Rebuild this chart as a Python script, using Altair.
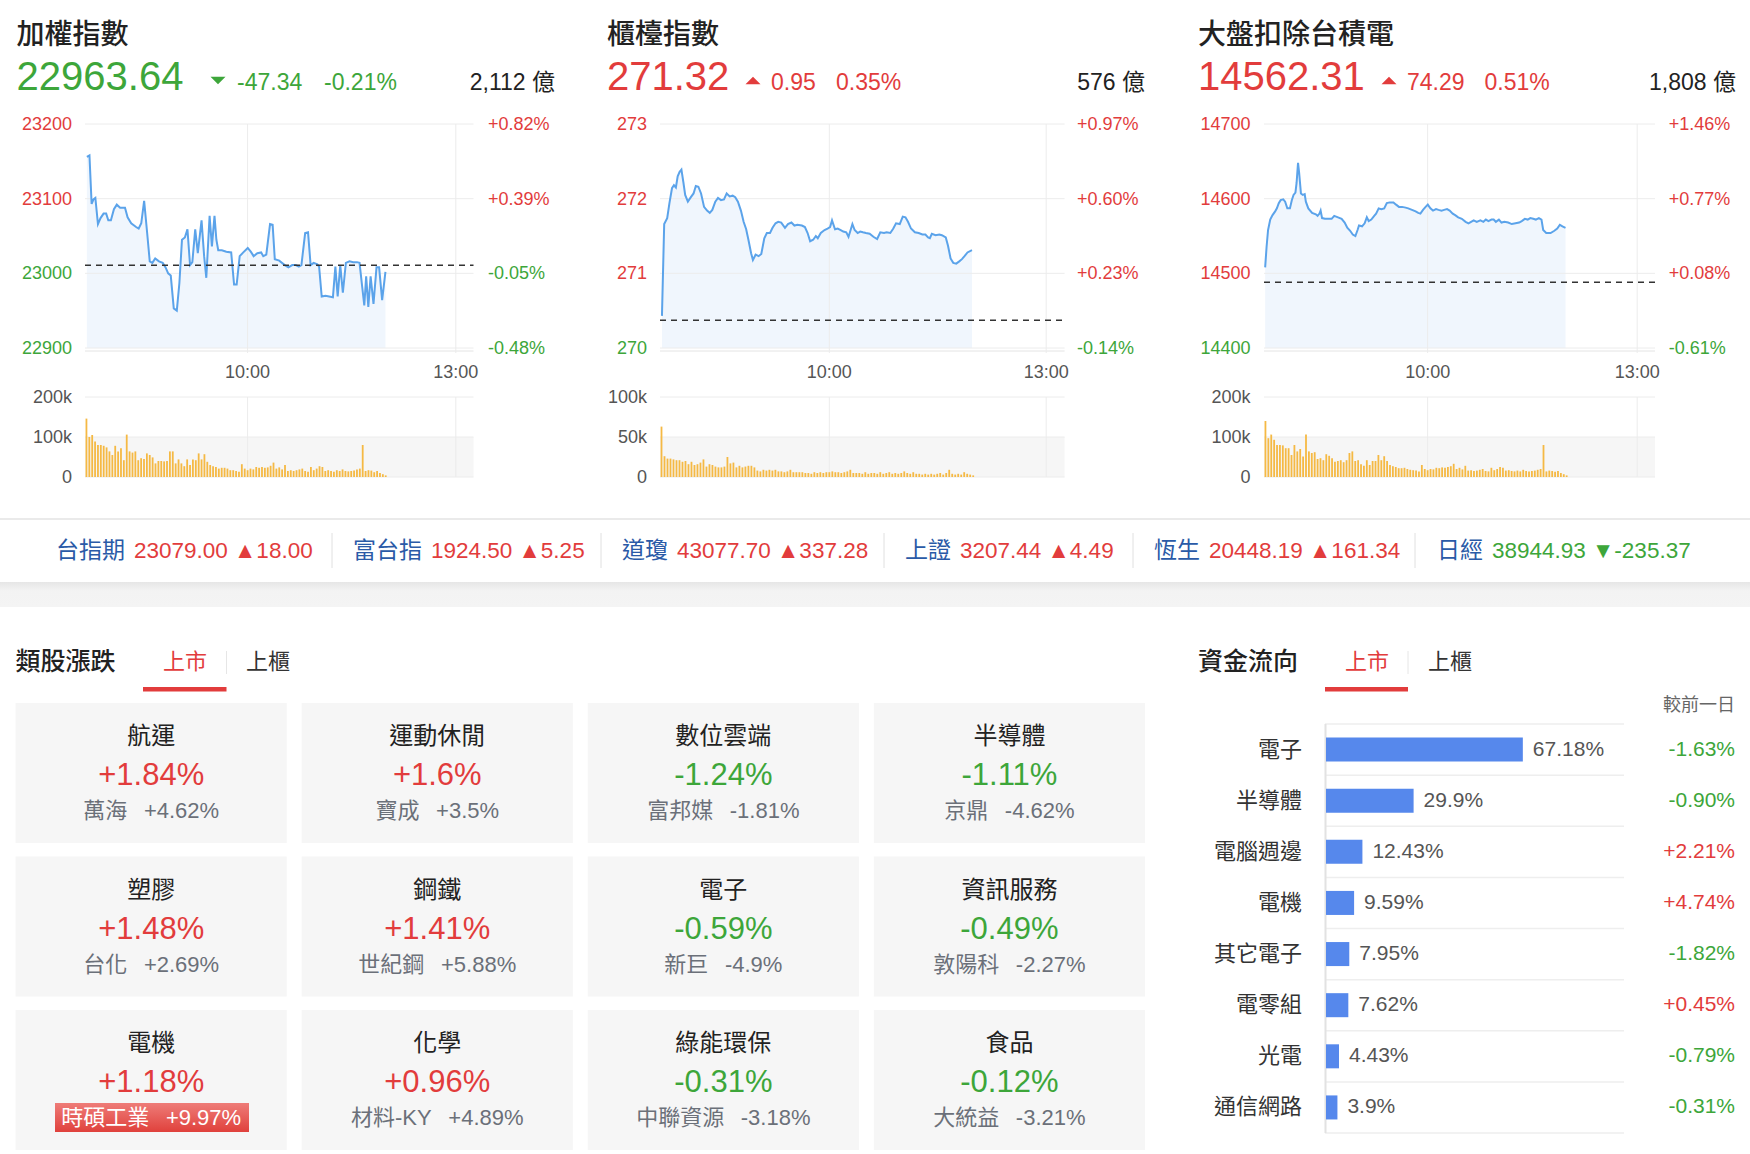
import altair as alt
import pandas as pd

FONT = "Liberation Sans, Noto Sans CJK TC, sans-serif"
RED = "#e23c3c"
GREEN = "#3da63a"
DARK = "#222222"
MID = "#555555"
SOFT = "#666666"
SUB_C = "#6b7079"
TICK_BLUE = "#2a5aa7"
LINE_C = "#5ba3ea"
AREA_C = "#f0f6fd"
VOL_C = "#f5b944"
GRID_C = "#ececec"
CARD_C = "#f6f6f6"
BAR_C = "#5688ec"

# ---------------- data ----------------
INDEX_NAMES = ["加權指數", "櫃檯指數", "大盤扣除台積電"]
INDEX_LAST = [22963.64, 271.32, 14562.31]
INDEX_CHG = [-47.34, 0.95, 74.29]
INDEX_PCT = [-0.21, 0.35, 0.51]
INDEX_AMT = ["2,112 億", "576 億", "1,808 億"]

PRICE_TICKS = [[22900, 23000, 23100, 23200], [270, 271, 272, 273], [14400, 14500, 14600, 14700]]
VOL_TICKS = [[0, 100, 200], [0, 50, 100], [0, 100, 200]]
VOL_TICK_LABELS = [["0", "100k", "200k"], ["0", "50k", "100k"], ["0", "100k", "200k"]]
TIME_TICKS = [113, 257.7]
TIME_LABELS = ["10:00", "13:00"]

P1_T = [1.3, 3.1, 4.6, 5.9, 7.2, 9.0, 10.8, 12.9, 14.7, 16.2, 18.0, 20.1, 22.1, 24.4, 27.8, 29.6, 32.1, 35.5, 37.3, 39.1,
        41.1, 43.2, 45.0, 46.8, 48.8, 51.4, 54.0, 56.0, 57.8, 59.6, 61.7, 63.8, 65.6, 67.4, 69.4, 71.2, 73.0, 74.6, 76.6, 78.4,
        81.0, 82.8, 84.3, 86.6, 88.2, 90.0, 91.3, 92.6, 95.1, 98.2, 101.6, 103.6, 105.4, 107.5, 110.0, 113.1, 115.2, 117.2, 119.8, 122.4,
        123.9, 126.0, 128.6, 130.4, 131.9, 135.0, 138.8, 141.4, 144.0, 146.5, 148.6, 150.4, 153.0, 155.0, 156.8, 158.9, 161.5, 162.7, 164.5, 167.1,
        169.7, 172.3, 174.0, 175.6, 177.4, 179.2, 181.3, 183.8, 186.4, 189.0, 190.8, 192.3, 194.1, 195.4, 196.9, 198.5, 200.5, 202.6, 204.4, 206.5,
        208.8]
P1_V = [23156, 23158, 23093, 23099, 23101, 23066, 23074, 23080, 23080, 23071,
        23071, 23086, 23092, 23088, 23088, 23075, 23067, 23062, 23060, 23067,
        23097, 23054, 23016, 23014, 23020, 23016, 23014, 23008, 23000, 22997,
        22953, 22950, 22987, 23045, 23048, 23059, 23011, 23015, 23059, 23027,
        23071, 23023, 22994, 23077, 23036, 23077, 23045, 23031, 23031, 23029,
        23028, 22985, 22985, 23023, 23028, 23034, 23029, 23023, 23027, 23028,
        23023, 23025, 23066, 23065, 23019, 23017, 23011, 23008, 23011, 23011,
        23009, 23011, 23054, 23055, 23011, 23014, 23012, 23009, 22969, 22970,
        22969, 22968, 23009, 22969, 23011, 22974, 23014, 23016, 23015, 23015,
        23014, 22988, 22957, 22996, 22955, 22996, 22959, 23008, 23008, 22964,
        23002]

P2_T = [1.3, 2.8, 4.8, 6.3, 8.0, 9.3, 10.6, 11.8, 13.1, 14.3,
        15.6, 16.8, 18.6, 20.6, 22.4, 23.9, 25.6, 27.4, 29.4, 31.4,
        33.2, 34.9, 36.9, 38.7, 40.7, 42.7, 44.5, 46.5, 48.5, 50.2,
        52.0, 54.0, 55.8, 57.5, 59.0, 60.8, 62.0, 63.8, 65.8, 67.6,
        69.6, 71.3, 73.4, 75.1, 77.1, 78.9, 80.9, 83.4, 85.4, 87.7,
        89.7, 91.7, 94.7, 96.7, 98.5, 100.2, 102.2, 104.0, 105.3, 107.3,
        109.8, 111.8, 113.5, 114.8, 116.8, 118.6, 120.6, 122.3, 124.3, 125.8,
        126.9, 128.4, 129.9, 131.9, 133.6, 135.4, 137.4, 139.9, 142.4, 144.9,
        147.0, 149.5, 151.2, 153.7, 155.7, 157.5, 160.0, 162.0, 163.8, 165.5,
        167.5, 170.1, 172.6, 175.1, 177.1, 178.9, 180.1, 181.4, 183.9, 186.4,
        188.1, 190.7, 192.2, 193.9, 195.7, 197.7, 199.7, 201.5, 203.2, 205.2, 208.2]
P2_V = [270.43, 271.66, 271.74, 271.94, 272.14, 272.18, 272.15, 272.30, 272.36, 272.39,
        272.22, 272.05, 271.96, 272.02, 272.07, 272.17, 272.16, 272.07, 271.89, 271.84,
        271.81, 271.85, 271.96, 272.01, 271.98, 271.99, 272.07, 272.03, 272.04, 272.02,
        271.96, 271.84, 271.69, 271.59, 271.45, 271.27, 271.18, 271.25, 271.23, 271.26,
        271.47, 271.54, 271.54, 271.61, 271.67, 271.69, 271.68, 271.61, 271.66, 271.68,
        271.64, 271.65, 271.64, 271.62, 271.54, 271.43, 271.45, 271.50, 271.47, 271.54,
        271.58, 271.60, 271.62, 271.71, 271.59, 271.60, 271.58, 271.56, 271.55, 271.49,
        271.56, 271.66, 271.58, 271.54, 271.56, 271.55, 271.54, 271.53, 271.49, 271.46,
        271.55, 271.54, 271.55, 271.54, 271.60, 271.67, 271.66, 271.76, 271.75, 271.69,
        271.60, 271.55, 271.54, 271.52, 271.52, 271.48, 271.47, 271.53, 271.51, 271.52,
        271.51, 271.48, 271.37, 271.20, 271.14, 271.13, 271.16, 271.19, 271.23, 271.28, 271.31]

P3_T = [0.8, 1.8, 2.8, 4.3, 5.9, 7.7, 8.9, 10.2, 11.5, 13.3,
        14.6, 16.1, 17.9, 19.2, 20.4, 21.7, 22.5, 23.5, 24.3, 25.5,
        26.8, 28.1, 28.9, 30.6, 33.2, 35.8, 37.0, 38.3, 39.1, 40.1,
        42.1, 44.7, 46.7, 48.5, 51.1, 53.6, 55.7, 57.5, 59.5, 61.3,
        63.1, 64.6, 65.6, 67.7, 69.5, 71.0, 72.3, 74.1, 76.1, 77.4,
        79.2, 81.0, 83.0, 84.8, 86.8, 89.4, 91.2, 93.2, 95.3, 97.8,
        99.6, 102.2, 104.7, 106.5, 108.0, 109.8, 111.6, 113.1, 114.9, 116.7,
        118.8, 120.5, 122.6, 124.4, 126.4, 128.2, 130.3, 132.0, 134.1, 136.6,
        139.2, 141.2, 143.0, 144.8, 146.9, 149.4, 151.5, 153.2, 155.0, 157.1,
        158.6, 160.1, 162.2, 164.0, 166.0, 168.6, 171.1, 173.7, 176.2, 178.0,
        180.1, 182.1, 183.9, 185.9, 187.7, 189.8, 191.6, 192.8, 194.9, 197.9,
        200.5, 202.5, 204.3, 206.1, 208.2]
P3_V = [14508, 14536, 14558, 14572, 14578, 14583, 14587, 14594, 14598, 14599,
        14596, 14587, 14587, 14598, 14605, 14608, 14621, 14648, 14634, 14607,
        14605, 14606, 14596, 14587, 14581, 14579, 14577, 14580, 14584, 14574,
        14573, 14573, 14573, 14577, 14575, 14573, 14568, 14561, 14557, 14552,
        14550, 14558, 14564, 14563, 14567, 14575, 14570, 14572, 14577, 14580,
        14587, 14586, 14587, 14594, 14595, 14595, 14592, 14589, 14589, 14588,
        14587, 14585, 14583, 14581, 14580, 14585, 14589, 14592, 14587, 14584,
        14586, 14585, 14584, 14585, 14586, 14584, 14580, 14578, 14575, 14573,
        14569, 14567, 14569, 14571, 14569, 14571, 14569, 14572, 14570, 14572,
        14572, 14569, 14572, 14568, 14569, 14568, 14566, 14567, 14568, 14570,
        14573, 14572, 14574, 14573, 14572, 14574, 14572, 14558, 14554, 14554,
        14557, 14560, 14565, 14563, 14561]

VOL_T = list(range(1, 210, 2))
P1_VOL = [146, 100, 105, 89, 80, 80, 78, 74, 64, 55, 78, 64, 72, 42, 106, 64, 61, 64, 42, 47,
          45, 59, 55, 49, 34, 40, 40, 39, 40, 64, 64, 34, 44, 34, 27, 44, 30, 44, 42, 59,
          44, 57, 38, 30, 27, 25, 21, 23, 23, 21, 17, 17, 15, 13, 32, 21, 17, 21, 19, 25,
          23, 25, 23, 24, 28, 36, 21, 24, 19, 30, 15, 17, 15, 17, 19, 21, 15, 13, 25, 17,
          21, 27, 25, 15, 17, 15, 13, 17, 15, 19, 15, 14, 15, 16, 19, 21, 80, 15, 17, 16,
          12, 15, 10, 7, 4]
P2_VOL = [63, 26, 23, 23, 22, 21, 21, 19, 20, 16, 19, 15, 16, 18, 22, 13, 16, 15, 13, 12,
          12, 13, 25, 17, 18, 12, 14, 12, 13, 14, 14, 12, 8, 7, 9, 8, 9, 8, 9, 7,
          7, 6, 7, 9, 6, 6, 6, 6, 5, 5, 4, 6, 5, 6, 5, 6, 6, 7, 6, 6,
          5, 6, 7, 9, 5, 5, 5, 4, 6, 4, 5, 5, 4, 6, 4, 5, 6, 4, 5, 4,
          5, 7, 5, 4, 6, 4, 4, 3, 4, 3, 4, 3, 4, 5, 3, 5, 9, 4, 3, 4,
          3, 6, 4, 3, 2]
P3_VOL = [140, 97, 106, 93, 80, 80, 79, 72, 72, 55, 80, 64, 70, 51, 106, 64, 60, 62, 45, 47,
          42, 57, 53, 47, 38, 40, 42, 37, 42, 60, 64, 40, 42, 32, 28, 42, 30, 40, 40, 55,
          42, 52, 40, 30, 27, 25, 22, 22, 23, 20, 18, 17, 16, 14, 30, 20, 17, 20, 19, 23,
          22, 24, 23, 25, 27, 33, 20, 23, 19, 28, 16, 17, 15, 16, 18, 20, 15, 14, 23, 17,
          20, 25, 23, 16, 17, 15, 14, 16, 14, 18, 15, 14, 15, 16, 18, 20, 80, 14, 16, 15,
          13, 15, 10, 7, 4]

TICKER_NAMES = ["台指期", "富台指", "道瓊", "上證", "恆生", "日經"]
TICKER_VALS = ["23079.00", "1924.50", "43077.70", "3207.44", "20448.19", "38944.93"]
TICKER_CHGS = [18.00, 5.25, 337.28, 4.49, 161.34, -235.37]

SECTOR_NAMES = ["航運", "運動休閒", "數位雲端", "半導體", "塑膠", "鋼鐵", "電子", "資訊服務",
                "電機", "化學", "綠能環保", "食品"]
SECTOR_PCT = [1.84, 1.6, -1.24, -1.11, 1.48, 1.41, -0.59, -0.49, 1.18, 0.96, -0.31, -0.12]
SECTOR_LEAD = ["萬海", "寶成", "富邦媒", "京鼎", "台化", "世紀鋼", "新巨", "敦陽科",
               "時碩工業", "材料-KY", "中聯資源", "大統益"]
SECTOR_LEAD_PCT = [4.62, 3.5, -1.81, -4.62, 2.69, 5.88, -4.9, -2.27, 9.97, 4.89, -3.18, -3.21]

FLOW_CATS = ["電子", "半導體", "電腦週邊", "電機", "其它電子", "電零組", "光電", "通信網路"]
FLOW_SHARE = [67.18, 29.9, 12.43, 9.59, 7.95, 7.62, 4.43, 3.9]
FLOW_CHG = [-1.63, -0.90, 2.21, 4.74, -1.82, 0.45, -0.79, -0.31]

# ---------------- layout ----------------
W, H = 1750, 1154
PY_TOP, PY_BOT = 124, 348
VY_TOP, VY_BOT = 397, 477
PANEL_PX = [(85, 473.5), (660, 1064.6), (1264, 1655)]
LEFT_LAB_X = [72, 647, 1250.6]
RIGHT_LAB_X = [488, 1077, 1668.7]
HEAD = [dict(title_x=16.6, tri_x=218, chg_x=237, pct_x=324, amt_x=555),
        dict(title_x=607, tri_x=753, chg_x=771, pct_x=836, amt_x=1145),
        dict(title_x=1198, tri_x=1389, chg_x=1407, pct_x=1484.5, amt_x=1736)]
TICKER_X = [56, 353, 622, 905, 1154, 1437]
TICKER_SEP_X = [332, 601, 884, 1133, 1415]
GAP = "\u00a0\u00a0\u2009"   # visible double space in SVG text

layers = []


def one():
    return pd.DataFrame({"k": [0]})


def rect(x1, x2, y1, y2, color):
    return alt.Chart(one()).mark_rect(color=color).encode(
        x=alt.value(x1), x2=alt.value(x2), y=alt.value(y1), y2=alt.value(y2))


def hline(x1, x2, y, color, width=1):
    return alt.Chart(one()).mark_rule(color=color, strokeWidth=width).encode(
        x=alt.value(x1), x2=alt.value(x2), y=alt.value(y))


def vline(x, y1, y2, color, width=1):
    return alt.Chart(one()).mark_rule(color=color, strokeWidth=width).encode(
        x=alt.value(x), y=alt.value(y1), y2=alt.value(y2))


def label(text, x, y, size, color, align="left", weight="normal"):
    return alt.Chart(pd.DataFrame({"s": [text]})).mark_text(
        align=align, baseline="middle", fontSize=size, color=color, font=FONT, fontWeight=weight
    ).encode(x=alt.value(x), y=alt.value(y), text="s:N")


LINES = [(P1_T, P1_V), (P2_T, P2_V), (P3_T, P3_V)]
VOLS = [P1_VOL, P2_VOL, P3_VOL]

for i in range(3):
    px0, px1 = PANEL_PX[i]
    prev = round(INDEX_LAST[i] - INDEX_CHG[i], 2)
    ticks = PRICE_TICKS[i]
    xs = alt.Scale(domain=[0, 270], range=[px0, px1], nice=False, zero=False)
    ys = alt.Scale(domain=[ticks[0], ticks[-1]], range=[PY_BOT, PY_TOP], nice=False, zero=False)
    vs = alt.Scale(domain=[0, VOL_TICKS[i][-1]], range=[VY_BOT, VY_TOP], nice=False, zero=False)
    up_c = RED if INDEX_CHG[i] > 0 else GREEN

    # header
    h = HEAD[i]
    layers.append(label(INDEX_NAMES[i], h["title_x"], 36, 28, DARK, weight=500))
    layers.append(label(f"{INDEX_LAST[i]:.2f}", h["title_x"], 78, 40, up_c))
    tri = "M-1,0.5L1,0.5L0,-0.5Z" if INDEX_CHG[i] > 0 else "M-1,-0.5L1,-0.5L0,0.5Z"
    layers.append(alt.Chart(one()).mark_point(shape=tri, filled=True, size=225, color=up_c, opacity=1,
                                              strokeWidth=0).encode(x=alt.value(h["tri_x"]), y=alt.value(80.5)))
    layers.append(label(f"{INDEX_CHG[i]:.2f}", h["chg_x"], 82.5, 23, up_c))
    layers.append(label(f"{INDEX_PCT[i]:.2f}%", h["pct_x"], 82.5, 23, up_c))
    layers.append(label(INDEX_AMT[i], h["amt_x"], 82.5, 23, DARK, align="right"))

    tdf = pd.DataFrame({
        "v": ticks,
        "lab": [str(t) for t in ticks],
        "pct": [f"{(t - prev) / prev * 100:+.2f}%" for t in ticks],
        "c": [RED if t > prev else GREEN for t in ticks],
    })
    ldf = pd.DataFrame({"t": LINES[i][0], "v": LINES[i][1]})
    ttdf = pd.DataFrame({"t": TIME_TICKS, "lab": TIME_LABELS})
    # area under the line (to the bottom of the price scale)
    layers.append(alt.Chart(ldf).mark_area(color=AREA_C, opacity=1).encode(
        x=alt.X("t:Q", scale=xs, axis=None), y=alt.Y("v:Q", scale=ys, axis=None),
        y2=alt.Y2(datum=ticks[0])))
    # horizontal grid
    layers.append(alt.Chart(tdf).mark_rule(color=GRID_C, strokeWidth=1).encode(
        y=alt.Y("v:Q", scale=ys, axis=None), x=alt.value(px0), x2=alt.value(px1)))
    layers.append(hline(px0, px1, PY_BOT + 3, "#e4e4e4", 1))
    # vertical grid
    layers.append(alt.Chart(ttdf).mark_rule(color=GRID_C, strokeWidth=1).encode(
        x=alt.X("t:Q", scale=xs, axis=None), y=alt.value(PY_TOP), y2=alt.value(PY_BOT + 5)))
    layers.append(alt.Chart(ttdf).mark_text(fontSize=18, color=MID, font=FONT, baseline="middle").encode(
        x=alt.X("t:Q", scale=xs, axis=None), y=alt.value(373), text="lab:N"))
    # line
    layers.append(alt.Chart(ldf).mark_line(color=LINE_C, strokeWidth=2).encode(
        x=alt.X("t:Q", scale=xs, axis=None), y=alt.Y("v:Q", scale=ys, axis=None)))
    # previous close
    layers.append(alt.Chart(pd.DataFrame({"v": [prev]})).mark_rule(
        color="#333333", strokeWidth=1.5, strokeDash=[6, 5]).encode(
        y=alt.Y("v:Q", scale=ys, axis=None), x=alt.value(px0), x2=alt.value(px1)))
    # axis labels
    layers.append(alt.Chart(tdf).mark_text(fontSize=18, font=FONT, align="right", baseline="middle", dy=1).encode(
        x=alt.value(LEFT_LAB_X[i]), y=alt.Y("v:Q", scale=ys, axis=None), text="lab:N",
        color=alt.Color("c:N", scale=None)))
    layers.append(alt.Chart(tdf).mark_text(fontSize=18, font=FONT, align="left", baseline="middle", dy=1).encode(
        x=alt.value(RIGHT_LAB_X[i]), y=alt.Y("v:Q", scale=ys, axis=None), text="pct:N",
        color=alt.Color("c:N", scale=None)))

    # volume
    vt = VOL_TICKS[i]
    vdf_t = pd.DataFrame({"v": vt, "lab": VOL_TICK_LABELS[i]})
    layers.append(alt.Chart(pd.DataFrame({"a": [vt[0]], "b": [vt[1]]})).mark_rect(color="#f6f6f6").encode(
        y=alt.Y("a:Q", scale=vs, axis=None), y2="b:Q", x=alt.value(px0), x2=alt.value(px1)))
    layers.append(alt.Chart(vdf_t).mark_rule(color=GRID_C, strokeWidth=1).encode(
        y=alt.Y("v:Q", scale=vs, axis=None), x=alt.value(px0), x2=alt.value(px1)))
    layers.append(alt.Chart(ttdf).mark_rule(color=GRID_C, strokeWidth=1).encode(
        x=alt.X("t:Q", scale=xs, axis=None), y=alt.value(VY_TOP), y2=alt.value(VY_BOT)))
    vdf = pd.DataFrame({"t": VOL_T, "k": VOLS[i]})
    layers.append(alt.Chart(vdf).mark_rule(color=VOL_C, strokeWidth=1.8).encode(
        x=alt.X("t:Q", scale=xs, axis=None), y=alt.Y("k:Q", scale=vs, axis=None), y2=alt.Y2(datum=0)))
    layers.append(alt.Chart(vdf_t).mark_text(fontSize=18, font=FONT, align="right", baseline="middle",
                                             color=MID, dy=1).encode(
        x=alt.value(LEFT_LAB_X[i]), y=alt.Y("v:Q", scale=vs, axis=None), text="lab:N"))

# ---------------- ticker strip ----------------
layers.append(hline(0, W, 519, "#e3e3e3", 1.5))
layers.append(alt.Chart(one()).mark_rect(color=alt.Gradient(
    gradient="linear", x1=0, x2=0, y1=0, y2=1,
    stops=[alt.GradientStop(color="#e6e6e6", offset=0), alt.GradientStop(color="#f3f3f3", offset=0.35),
           alt.GradientStop(color="#f4f4f4", offset=1)])).encode(
    x=alt.value(0), x2=alt.value(W), y=alt.value(582), y2=alt.value(607)))
for j, name in enumerate(TICKER_NAMES):
    x0 = TICKER_X[j]
    chg = TICKER_CHGS[j]
    col = RED if chg > 0 else GREEN
    chg_s = f"▲{chg:.2f}" if chg > 0 else f"▼{chg:.2f}"
    layers.append(label(name, x0, 551, 23, TICK_BLUE))
    layers.append(label(f"{TICKER_VALS[j]} {chg_s}", x0 + len(name) * 23 + 9, 551, 22.5, col))
for sx in TICKER_SEP_X:
    layers.append(vline(sx, 533, 568, "#e0e0e0", 1))

# ---------------- sector cards ----------------
layers.append(label("類股漲跌", 15.6, 662, 25, DARK, weight=500))
layers.append(label("上市", 185, 662, 22, RED, align="center"))
layers.append(label("上櫃", 268, 662, 22, "#333333", align="center"))
layers.append(vline(226.5, 651, 674, "#e6e6e6", 1))
layers.append(rect(143, 226.5, 687, 691.5, RED))

cdf = pd.DataFrame({
    "col": [k % 4 for k in range(12)],
    "row": [k // 4 for k in range(12)],
    "name": SECTOR_NAMES,
    "pct": [f"{v:+}%" for v in SECTOR_PCT],
    "pc": [RED if v > 0 else GREEN for v in SECTOR_PCT],
    "sub": [f"{n}{GAP}{v:+}%" for n, v in zip(SECTOR_LEAD, SECTOR_LEAD_PCT)],
    "limit": [v >= 9.5 for v in SECTOR_LEAD_PCT],
})
cxs = alt.Scale(type="band", domain=[0, 1, 2, 3], range=[15.6, 1145], paddingInner=0.052, paddingOuter=0)
cys = alt.Scale(type="band", domain=[0, 1, 2], range=[703, 1150], paddingInner=0.088, paddingOuter=0)
CX = alt.X("col:O", scale=cxs, axis=None)
CY = alt.Y("row:O", scale=cys, axis=None)
layers.append(alt.Chart(cdf).mark_rect(color=CARD_C).encode(x=CX, y=CY))
layers.append(alt.Chart(cdf).mark_text(fontSize=24, font=FONT, color=DARK, baseline="middle", dy=-36).encode(
    x=CX, y=CY, text="name:N"))
layers.append(alt.Chart(cdf).mark_text(fontSize=31, font=FONT, baseline="middle", dy=3).encode(
    x=CX, y=CY, text="pct:N", color=alt.Color("pc:N", scale=None)))
# limit-up highlight
layers.append(alt.Chart(one()).mark_rect(color=alt.Gradient(
    gradient="linear", x1=0, x2=0, y1=0, y2=1,
    stops=[alt.GradientStop(color="#ee7c78", offset=0), alt.GradientStop(color="#e0413c", offset=1)])).encode(
    x=alt.value(55), x2=alt.value(249), y=alt.value(1103), y2=alt.value(1132)))
layers.append(alt.Chart(cdf).mark_text(fontSize=22, font=FONT, baseline="middle", dy=38).encode(
    x=CX, y=CY, text="sub:N",
    color=alt.condition(alt.datum.limit, alt.value("#ffffff"), alt.value(SUB_C))))

# ---------------- fund flow ----------------
layers.append(label("資金流向", 1198, 662, 25, DARK, weight=500))
layers.append(label("上市", 1367, 662, 22, RED, align="center"))
layers.append(label("上櫃", 1450, 662, 22, "#333333", align="center"))
layers.append(vline(1408, 651, 674, "#e6e6e6", 1))
layers.append(rect(1325, 1408, 687, 691.5, RED))
layers.append(label("較前一日", 1735, 706, 18, SOFT, align="right"))

fdf = pd.DataFrame({
    "cat": FLOW_CATS,
    "share": FLOW_SHARE,
    "lab": [f"{v}%" for v in FLOW_SHARE],
    "chg": [f"{v:+.2f}%" for v in FLOW_CHG],
    "c": [RED if v > 0 else GREEN for v in FLOW_CHG],
})
fxs = alt.Scale(domain=[0, 100], range=[1326, 1619], nice=False)
fys = alt.Scale(domain=FLOW_CATS, range=[724, 1133], paddingInner=0.53, paddingOuter=0.265)
sep = pd.DataFrame({"i": list(range(len(FLOW_CATS) + 1))})
layers.append(alt.Chart(sep).mark_rule(color="#eeeeee", strokeWidth=1.5).encode(
    y=alt.Y("i:Q", scale=alt.Scale(domain=[0, len(FLOW_CATS)], range=[724, 1133], nice=False, zero=False), axis=None),
    x=alt.value(1325), x2=alt.value(1624)))
layers.append(vline(1325.5, 724, 1133, "#e2e2e2", 2))
layers.append(alt.Chart(fdf).mark_bar(color=BAR_C).encode(
    x=alt.X("share:Q", scale=fxs, axis=None), y=alt.Y("cat:N", scale=fys, axis=None)))
layers.append(alt.Chart(fdf).mark_text(fontSize=21, font=FONT, color=MID, align="left", dx=10,
                                       baseline="middle").encode(
    x=alt.X("share:Q", scale=fxs, axis=None), y=alt.Y("cat:N", scale=fys, axis=None), text="lab:N"))
layers.append(alt.Chart(fdf).mark_text(fontSize=22, font=FONT, color="#333333", align="right",
                                       baseline="middle").encode(
    x=alt.value(1302), y=alt.Y("cat:N", scale=fys, axis=None), text="cat:N"))
layers.append(alt.Chart(fdf).mark_text(fontSize=21, font=FONT, align="right", baseline="middle").encode(
    x=alt.value(1735), y=alt.Y("cat:N", scale=fys, axis=None), text="chg:N",
    color=alt.Color("c:N", scale=None)))

chart = alt.layer(*layers).resolve_scale(
    x="independent", y="independent", color="independent"
).properties(
    width=W, height=H, autosize=alt.AutoSizeParams(type="none"), padding=0, background="white"
).configure_view(stroke=None)

chart.save("out.html", embed_options={"renderer": "svg", "actions": False})
